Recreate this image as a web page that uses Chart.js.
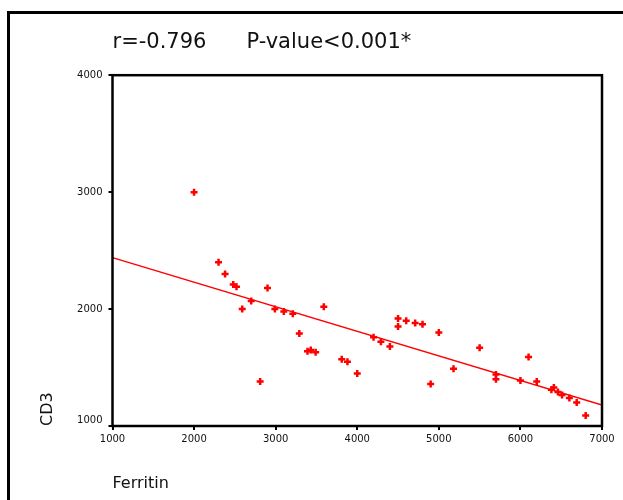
<!DOCTYPE html>
<html>
<head>
<meta charset="utf-8">
<title>CD3 vs Ferritin</title>
<script src="https://cdn.jsdelivr.net/npm/chart.js@4/dist/chart.umd.min.js"></script>
<style>
    html, body { margin: 0; padding: 0; background: #fff; }
    canvas { display: block; }
</style>
</head>
<body>
<canvas id="chart" width="623" height="500"></canvas>
<script>
// ferritin (x)
var ferritin = [
    2000, 2300, 2380, 2480, 2520, 2900, 2590, 2700, 2990, 3100,
    3210, 3290, 3390, 3430, 3490, 2810, 3590, 3810, 3880, 4000,
    4500, 4500, 4600, 4710, 4800, 5000, 4200, 4290, 4400, 5500,
    5180, 4900, 5700, 5700, 6100, 6000, 6200, 6410, 6380, 6460,
    6510, 6600, 6690, 6800
];

// CD3 (y) for each ferritin value above
var cd3 = [
    3000, 2400, 2300, 2210, 2190, 2180, 2000, 2070, 2000, 1980,
    1960, 1790, 1640, 1650, 1630, 1380, 2020, 1570, 1550, 1450,
    1920, 1850, 1900, 1880, 1870, 1800, 1760, 1720, 1680, 1670,
    1490, 1360, 1440, 1400, 1590, 1390, 1380, 1330, 1310, 1290,
    1265, 1240, 1200, 1090
];

// fitted line end points
var fitX = [1000, 7000];
var fitY = [2440, 1180];

var xTicks = [1000, 2000, 3000, 4000, 5000, 6000, 7000];
var yTicks = [1000, 2000, 3000, 4000];

var headerText = 'r=-0.796      P-value<0.001*';
var xTitle = 'Ferritin';
var yTitle = 'CD3';

var RED = '#ff0000';
var FONT = 'DejaVu Sans';

function toPoints(xs, ys) {
    var pts = [];
    for (var i = 0; i < xs.length; i++) {
        pts.push({ x : xs[i], y : ys[i] });
    }
    return pts;
}

// frame round the page + box round the plot
var framePlugin = {
    id : 'frame',
    beforeDraw : function(chart) {
        var ctx = chart.ctx;
        ctx.save();
        ctx.fillStyle = '#fff';
        ctx.fillRect(0, 0, chart.width, chart.height);
        ctx.strokeStyle = '#000';
        ctx.lineWidth = 3;
        ctx.beginPath();
        ctx.moveTo(8.5, chart.height);
        ctx.lineTo(8.5, 12.5);
        ctx.lineTo(chart.width, 12.5);
        ctx.stroke();
        ctx.restore();
    },
    afterDatasetsDraw : function(chart) {
        var a = chart.chartArea;
        var ctx = chart.ctx;
        ctx.save();
        ctx.strokeStyle = '#000';
        ctx.lineWidth = 2.5;
        ctx.strokeRect(a.left, a.top, a.right - a.left, a.bottom - a.top);
        ctx.restore();
    }
};

new Chart(document.getElementById('chart'), {
    type : 'scatter',
    data : {
        datasets : [
            {
                label : 'CD3',
                data : toPoints(ferritin, cd3),
                pointStyle : 'cross',
                pointRadius : 3.5,
                pointBorderWidth : 2.5,
                borderColor : RED,
                backgroundColor : RED
            },
            {
                label : 'fit',
                type : 'line',
                data : toPoints(fitX, fitY),
                borderColor : RED,
                borderWidth : 1.5,
                pointRadius : 0,
                fill : false
            }
        ]
    },
    options : {
        responsive : false,
        animation : false,
        devicePixelRatio : 1,
        layout : {
            padding : { left : 0, right : 21, top : 0, bottom : 0 }
        },
        plugins : {
            legend : { display : false },
            tooltip : { enabled : false },
            title : {
                display : true,
                text : headerText,
                align : 'start',
                fullSize : false,
                color : '#111',
                font : { family : FONT, size : 21, weight : 'normal' },
                padding : { top : 30, bottom : 20 }
            }
        },
        scales : {
            x : {
                type : 'linear',
                min : xTicks[0],
                max : xTicks[xTicks.length - 1],
                afterFit : function(scale) { scale.height = 74; },
                afterBuildTicks : function(scale) {
                    scale.ticks = xTicks.map(function(v) { return { value : v }; });
                },
                border : { display : false },
                grid : { drawOnChartArea : false, color : '#000', lineWidth : 2, tickLength : 4 },
                ticks : {
                    color : '#111',
                    padding : 3,
                    maxRotation : 0,
                    font : { family : FONT, size : 10 },
                    callback : function(v) { return String(v); }
                },
                title : {
                    display : true,
                    text : xTitle,
                    align : 'start',
                    color : '#111',
                    font : { family : FONT, size : 16 },
                    padding : { top : 0, bottom : 7 }
                }
            },
            y : {
                type : 'linear',
                min : yTicks[0],
                max : yTicks[yTicks.length - 1],
                afterFit : function(scale) { scale.width = 112.5; },
                afterBuildTicks : function(scale) {
                    scale.ticks = yTicks.map(function(v) { return { value : v }; });
                },
                border : { display : false },
                grid : { drawOnChartArea : false, color : '#000', lineWidth : 2, tickLength : 4 },
                ticks : {
                    color : '#111',
                    padding : 6,
                    font : { family : FONT, size : 10 },
                    // lowest label sits a little above its tick
                    callback : function(v) { return v === yTicks[0] ? [String(v), ''] : String(v); }
                },
                title : {
                    display : true,
                    text : yTitle,
                    align : 'start',
                    color : '#111',
                    font : { family : FONT, size : 16 },
                    padding : { top : 38, bottom : 0 }
                }
            }
        }
    },
    plugins : [framePlugin]
});
</script>
</body>
</html>
